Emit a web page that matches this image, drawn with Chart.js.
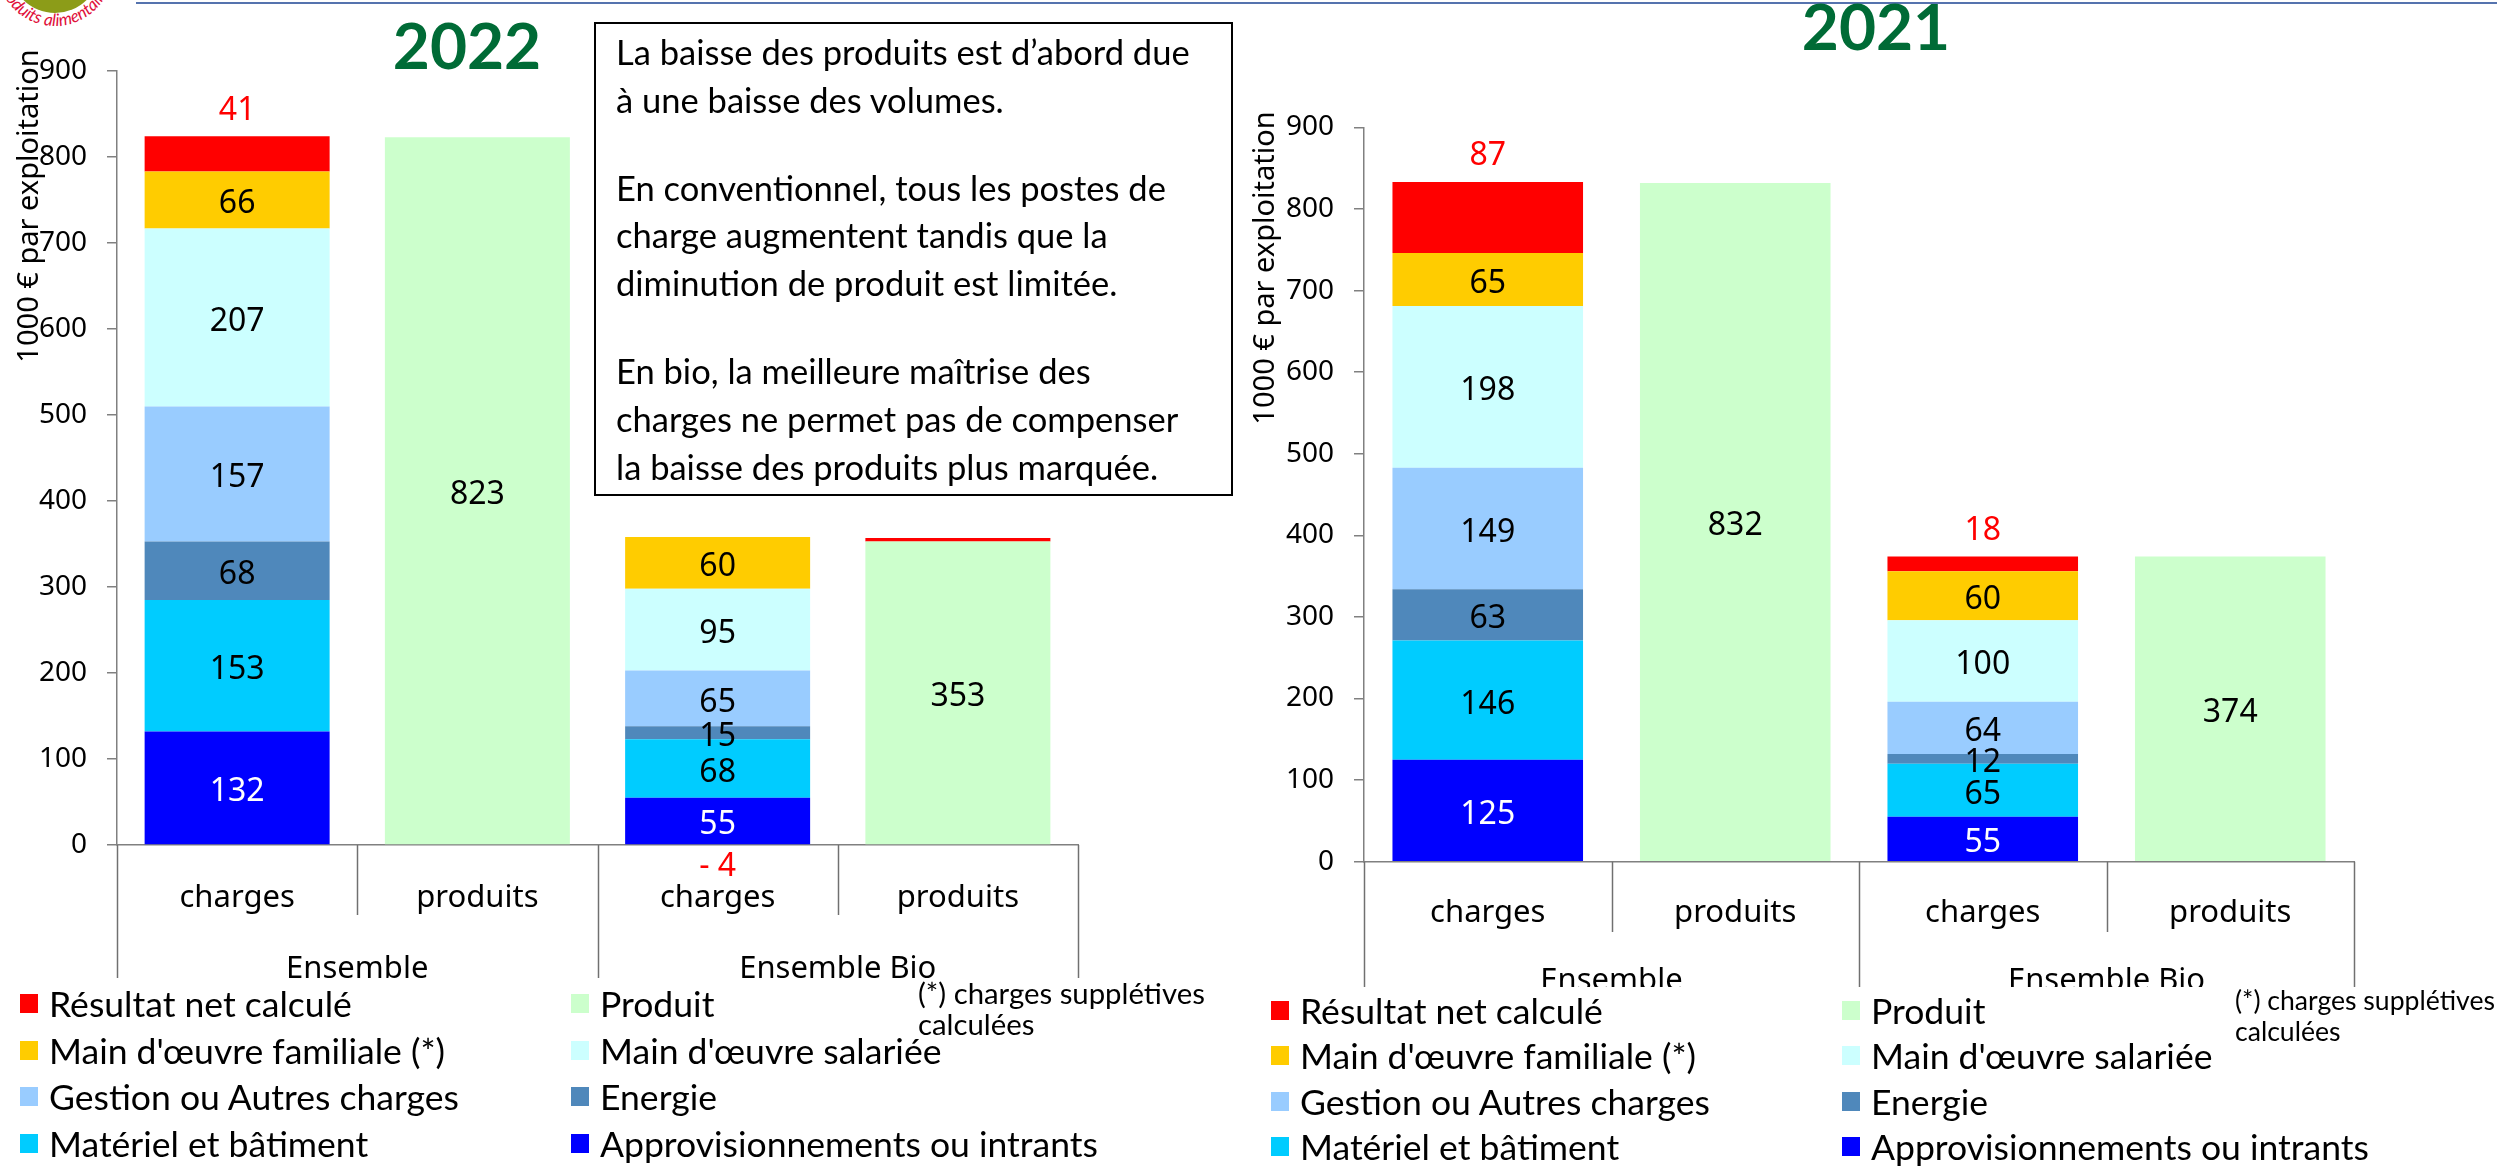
<!DOCTYPE html>
<html lang="fr">
<head>
<meta charset="utf-8">
<title>Charges et produits par exploitation 2022 / 2021</title>
<script src="https://cdn.jsdelivr.net/npm/chart.js@4.4.1/dist/chart.umd.min.js"></script>
<style>
  html, body { margin: 0; padding: 0; background: #fff; }
  body { width: 2497px; height: 1174px; position: relative; overflow: hidden; font-family: Lato, sans-serif; color: #000; }
  canvas.chart { position: absolute; left: 0; top: 0; }
  .topline { position: absolute; left: 136px; right: 0; top: 2px; height: 2px; background: #5573ae; }
  .logo { position: absolute; left: 0; top: 0; }
  .year { position: absolute; font-family: Lato, sans-serif; font-weight: bold; font-size: 64px; line-height: 1; color: #006b36; transform: translate(-50%, -50%); }
  .note { position: absolute; left: 594px; top: 22px; width: 639px; height: 474px; box-sizing: border-box; border: 2px solid #000; padding: 4px 0 0 20px; line-height: 47.8px; white-space: nowrap; }
  .note p { margin: 0 0 40px 0; }
  .legend { position: absolute; display: grid; }
  .legend .item { display: flex; align-items: center; white-space: nowrap; }
  .legend .box { width: 18px; height: 19px; margin-right: 11px; flex: none; }
  .foot { position: absolute; line-height: 31px; white-space: nowrap; }
</style>
</head>
<body>
<svg class="logo" width="140" height="40" viewBox="0 0 140 40">
  <defs><path id="logoArc" d="M -3 -32 A 58 58 0 0 0 113 -32"/></defs>
  <circle cx="55" cy="-32" r="45" fill="#8c9c18"/>
  <text font-family="Lato" font-style="italic" font-size="17" fill="#e0103a"><textPath href="#logoArc" startOffset="50%" text-anchor="middle">Produits alimentaires</textPath></text>
</svg>
<div class="topline"></div>

<canvas id="chart2022" class="chart" width="2497" height="1174"></canvas>
<canvas id="chart2021" class="chart" width="2497" height="1174"></canvas>

<div class="year" style="left:467px; top:45px;">2022</div>
<div class="year" style="left:1876px; top:26px;">2021</div>

<div class="note" id="note">
  <p>La baisse des produits est d’abord due<br>à une baisse des volumes.</p>
  <p>En conventionnel, tous les postes de<br>charge augmentent tandis que la<br>diminution de produit est limitée.</p>
  <p>En bio, la meilleure maîtrise des<br>charges ne permet pas de compenser<br>la baisse des produits plus marquée.</p>
</div>

<div class="legend" id="legend2022" style="left:20px; top:980px; grid-template-columns:551px auto; grid-auto-rows:46.7px;"></div>
<div class="legend" id="legend2021" style="left:1271px; top:988px; grid-template-columns:571px auto; grid-auto-rows:45.3px;"></div>

<div class="foot" id="foot2022" style="left:918px; top:977px;">(*) charges supplétives<br>calculées</div>
<div class="foot" id="foot2021" style="left:2235px; top:985px;">(*) charges supplétives<br>calculées</div>

<script>
// catégories de l'axe x et regroupements
const categories = ['charges', 'produits', 'charges', 'produits'];
const groups = ['Ensemble', 'Ensemble Bio'];

// postes de charges, du bas vers le haut de la pile
const seriesNames = ['Approvisionnements ou intrants', 'Matériel et bâtiment', 'Energie',
  'Gestion ou Autres charges', "Main d'œuvre salariée", "Main d'œuvre familiale (*)"];
const seriesColors = ['#0000ff', '#00ccff', '#4f88bb', '#99ccff', '#ccffff', '#ffcc00'];
const produitName = 'Produit';
const produitColor = '#ccffcc';
const resultatName = 'Résultat net calculé';
const resultatColor = '#ff0000';

// 2022 : [Ensemble, Ensemble Bio], en 1000 € par exploitation
const appro2022 = [132, 55];
const materiel2022 = [153, 68];
const energie2022 = [68, 15];
const gestion2022 = [157, 65];
const moSalariee2022 = [207, 95];
const moFamiliale2022 = [66, 60];
const resultat2022 = [41, -4];
const produit2022 = [823, 353];

// 2021
const appro2021 = [125, 55];
const materiel2021 = [146, 65];
const energie2021 = [63, 12];
const gestion2021 = [149, 64];
const moSalariee2021 = [198, 100];
const moFamiliale2021 = [65, 60];
const resultat2021 = [87, 18];
const produit2021 = [832, 374];

// axe des valeurs
const yMin = 0;
const yMax = 900;
const yStep = 100;
const yTitle = '1000 € par exploitation';

const legendOrder = [resultatName, produitName, "Main d'œuvre familiale (*)", "Main d'œuvre salariée",
  'Gestion ou Autres charges', 'Energie', 'Matériel et bâtiment', 'Approvisionnements ou intrants'];

const labelFont = '"Noto Sans", sans-serif';

function buildDatasets(charges, resultat, produit) {
  const onCharges = v => [v[0], null, v[1], null];
  const ds = charges.map((vals, k) => ({
    label: seriesNames[k],
    data: onCharges(vals),
    backgroundColor: seriesColors[k],
    textColor: k === 0 ? '#ffffff' : '#000000'
  }));
  ds.push({ label: produitName, data: [null, produit[0], null, produit[1]], backgroundColor: produitColor, textColor: '#000000' });
  // un résultat négatif apparaît comme un liseré rouge au-dessus du produit
  ds.push({
    label: resultatName,
    data: [resultat[0], resultat[0] < 0 ? -resultat[0] : null, resultat[1], resultat[1] < 0 ? -resultat[1] : null],
    backgroundColor: resultatColor,
    textColor: resultatColor,
    isResultat: true
  });
  return ds;
}

const valueLabels = {
  id: 'valueLabels',
  afterDraw(chart) {
    const ctx = chart.ctx;
    const zero = chart.scales.y.getPixelForValue(0);
    const size = 32;
    const half = size * 0.357; // moitié de la hauteur des chiffres
    ctx.save();
    ctx.font = size + 'px ' + labelFont;
    ctx.textAlign = 'center';
    ctx.textBaseline = 'alphabetic';
    chart.data.datasets.forEach((ds, di) => {
      chart.getDatasetMeta(di).data.forEach((bar, i) => {
        const v = ds.data[i];
        if (v == null) return;
        ctx.fillStyle = ds.textColor;
        if (ds.isResultat) {
          if (chart.data.labels[i] !== 'charges') return;
          if (v >= 0) ctx.fillText(String(v), bar.x, bar.y - 28 + half);
          else ctx.fillText('- ' + Math.abs(v), bar.x, zero + 20 + half);
          return;
        }
        ctx.fillText(String(v), bar.x, (bar.y + bar.base) / 2 + half + 2);
      });
    });
    ctx.restore();
  }
};

const groupAxis = {
  id: 'groupAxis',
  afterDraw(chart, args, o) {
    const { ctx, chartArea } = chart;
    const x = chart.scales.x;
    const n = chart.data.labels.length;
    const step = (x.right - x.left) / n;
    ctx.save();
    ctx.beginPath();
    ctx.rect(0, 0, chart.width, o.clipBottom);
    ctx.clip();
    ctx.strokeStyle = '#707070';
    ctx.lineWidth = 1.5;
    for (let i = 0; i <= n; i++) {
      const px = Math.round(x.left + i * step) + 0.5;
      ctx.beginPath();
      ctx.moveTo(px, chartArea.bottom);
      ctx.lineTo(px, i % 2 === 0 ? o.outerBottom : o.innerBottom);
      ctx.stroke();
    }
    ctx.fillStyle = '#000';
    ctx.font = '31px ' + labelFont;
    ctx.textAlign = 'center';
    ctx.textBaseline = 'middle';
    groups.forEach((g, k) => ctx.fillText(g, x.left + (2 * k + 1) * step, o.groupY));
    ctx.restore();

    ctx.save();
    ctx.fillStyle = '#000';
    ctx.font = '29px ' + labelFont;
    ctx.textAlign = 'center';
    ctx.textBaseline = 'middle';
    ctx.translate(o.titleX, o.titleY);
    ctx.rotate(-Math.PI / 2);
    ctx.fillText(yTitle, 0, 0);
    ctx.restore();
  }
};

function makeChart(id, datasets, p) {
  return new Chart(document.getElementById(id), {
    type: 'bar',
    data: { labels: categories, datasets },
    options: {
      responsive: false,
      animation: false,
      devicePixelRatio: 1,
      events: [],
      layout: { padding: { left: p.left, top: p.top, right: p.right, bottom: 0 } },
      datasets: { bar: { barPercentage: 0.77, categoryPercentage: 1 } },
      plugins: {
        legend: { display: false },
        tooltip: { enabled: false },
        groupAxis: p.axis
      },
      scales: {
        x: {
          stacked: true,
          grid: { display: false, drawTicks: false },
          border: { display: true, color: '#808080', width: 1.5 },
          ticks: { color: '#000', font: { family: labelFont, size: 31 }, padding: p.tickPad },
          afterFit: s => { s.height = p.xHeight; }
        },
        y: {
          stacked: true,
          min: yMin,
          max: yMax,
          ticks: { stepSize: yStep, color: '#000', font: { family: labelFont, size: 28 }, padding: 20 },
          grid: { drawOnChartArea: false, tickLength: 10, color: '#808080', lineWidth: 1.5 },
          border: { display: true, color: '#808080', width: 1.5 },
          afterFit: s => { s.width = 117; }
        }
      }
    },
    plugins: [valueLabels, groupAxis]
  });
}

const chart2022 = makeChart('chart2022',
  buildDatasets([appro2022, materiel2022, energie2022, gestion2022, moSalariee2022, moFamiliale2022], resultat2022, produit2022),
  { left: 0, top: 71, right: 2497 - 1078, xHeight: 1174 - 845, tickPad: 35,
    axis: { outerBottom: 978, innerBottom: 915, groupY: 969, clipBottom: 1174, titleX: 30, titleY: 206 } });

const chart2021 = makeChart('chart2021',
  buildDatasets([appro2021, materiel2021, energie2021, gestion2021, moSalariee2021, moFamiliale2021], resultat2021, produit2021),
  { left: 1364 - 117, top: 127.4, right: 2497 - 2354, xHeight: 1174 - 861.7, tickPad: 33,
    axis: { outerBottom: 1000, innerBottom: 932, groupY: 981, clipBottom: 987, titleX: 1266, titleY: 268 } });

// tailles de police calées sur la largeur des textes d'origine
function fitFontSize(text, family, target) {
  const c = document.createElement('canvas').getContext('2d');
  c.font = '100px ' + family;
  return 100 * target / c.measureText(text).width;
}
const legendSize = fitFontSize('Résultat net calculé', 'Lato', 303);
const noteSize = fitFontSize('La baisse des produits est d’abord due', 'Lato', 574);
document.getElementById('note').style.fontSize = noteSize + 'px';
document.getElementById('foot2022').style.fontSize = fitFontSize('(*) charges supplétives', 'Lato', 287) + 'px';
document.getElementById('foot2021').style.fontSize = fitFontSize('(*) charges supplétives', 'Lato', 260) + 'px';

function buildLegend(chart, el) {
  legendOrder.forEach(name => {
    const ds = chart.data.datasets.find(d => d.label === name);
    const item = document.createElement('div');
    item.className = 'item';
    item.style.fontSize = legendSize + 'px';
    const box = document.createElement('span');
    box.className = 'box';
    box.style.background = ds.backgroundColor;
    const txt = document.createElement('span');
    txt.textContent = ds.label;
    item.appendChild(box);
    item.appendChild(txt);
    el.appendChild(item);
  });
}
buildLegend(chart2022, document.getElementById('legend2022'));
buildLegend(chart2021, document.getElementById('legend2021'));
</script>
</body>
</html>
